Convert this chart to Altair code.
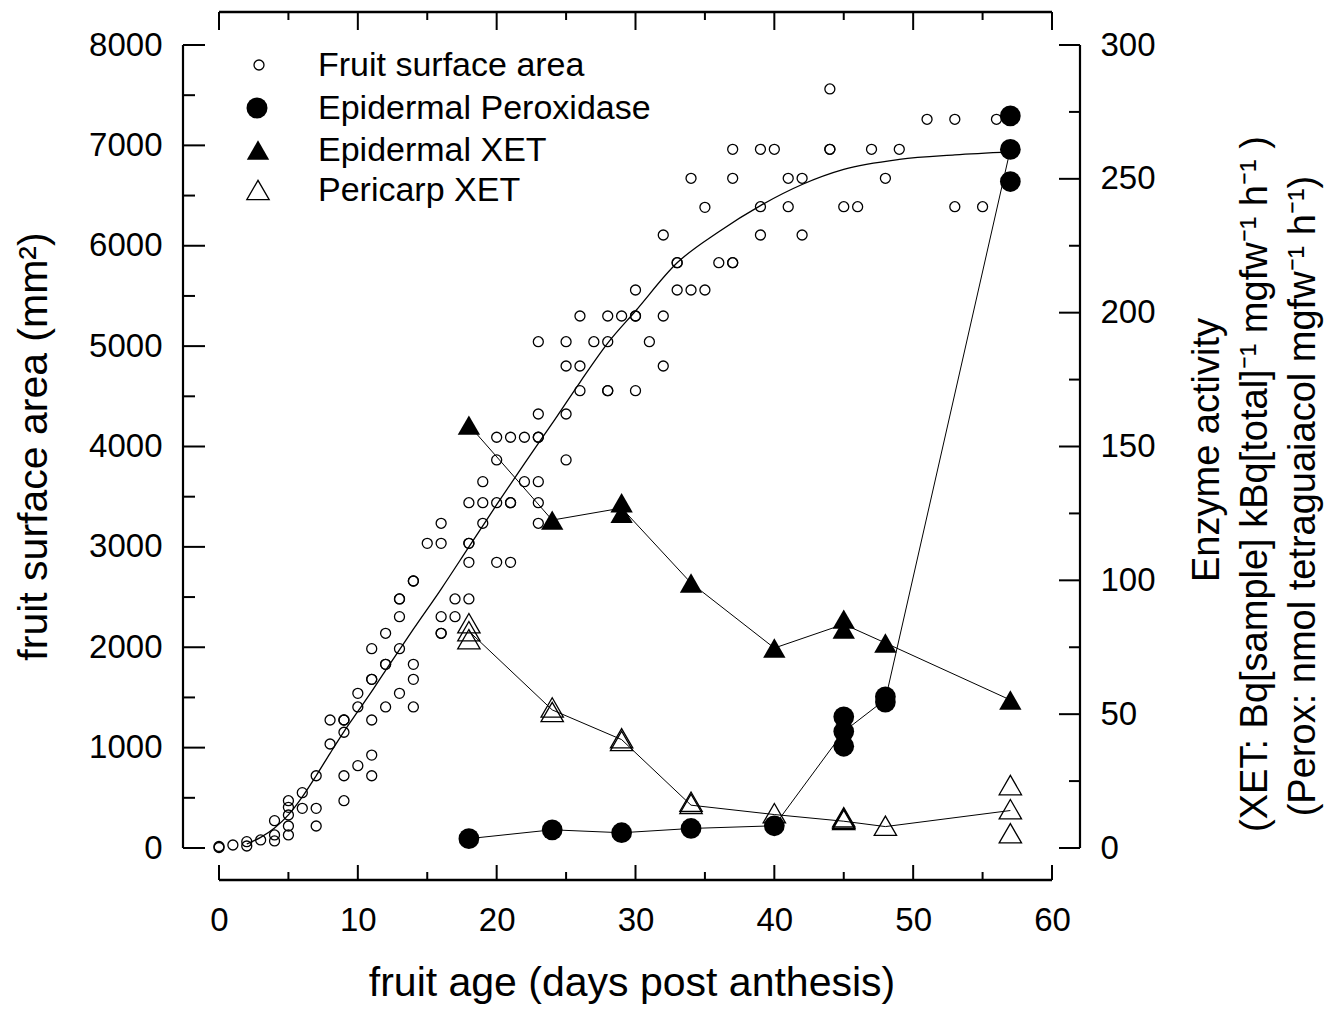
import altair as alt
import pandas as pd

# ---------------- data ----------------
fruit_day = [
    0, 0, 1, 2, 2, 3, 4, 4, 4,
    5, 5, 5, 5, 5, 6, 6, 7, 7, 7,
    8, 8, 9, 9, 9, 9, 9, 10, 10, 10,
    11, 11, 11, 11, 11, 11, 12, 12, 12, 12,
    13, 13, 13, 13, 13, 14, 14, 14, 14, 14,
    15, 16, 16, 16, 16, 16, 17, 17,
    18, 18, 18, 18, 18, 19, 19, 19,
    20, 20, 20, 20, 21, 21, 21, 21, 22, 22,
    23, 23, 23, 23, 23, 23, 23, 25, 25, 25, 25,
    26, 26, 26, 27, 28, 28, 28, 28, 29,
    30, 30, 30, 30, 31, 32, 32, 32, 33, 33, 33,
    34, 34, 35, 35, 36, 37, 37, 37, 37,
    39, 39, 39, 40, 41, 41, 42, 42, 44, 44, 44,
    45, 46, 47, 48, 49, 51, 53, 53, 55, 56]
fruit_area = [
    5, 15, 30, 63, 20, 80, 272, 130, 70,
    471, 405, 329, 219, 130, 551, 395, 720, 395, 219,
    1275, 1036, 1275, 1275, 1153, 720, 471, 1541, 1405, 820,
    1986, 1680, 1680, 1275, 926, 720, 2139, 1830, 1830, 1405,
    2481, 2481, 2305, 1986, 1541, 2660, 2660, 1830, 1680, 1405,
    3035, 3235, 3035, 2305, 2139, 2139, 2481, 2305,
    3440, 3035, 3035, 2846, 2481, 3650, 3440, 3235,
    4092, 3866, 3440, 2846, 4092, 3440, 3440, 2846, 4092, 3650,
    5044, 4324, 4092, 4092, 3650, 3440, 3235, 5044, 4802, 4324, 3866,
    5300, 4802, 4556, 5044, 5300, 5044, 4556, 4556, 5300,
    5559, 5300, 5300, 4556, 5044, 6107, 5300, 4802, 5831, 5831, 5559,
    6672, 5559, 6383, 5559, 5831, 6961, 6672, 5831, 5831,
    6961, 6389, 6107, 6961, 6672, 6389, 6672, 6107, 7562, 6961, 6961,
    6389, 6389, 6961, 6672, 6961, 7260, 7260, 6389, 6389, 7260]

fit_day = [2, 3, 4, 5, 6, 7, 8, 9, 10, 11, 12, 14, 16, 18, 20, 22, 24, 26,
           28, 30, 33, 36, 39, 42, 45, 49, 53, 57]
fit_area = [40, 106, 200, 330, 510, 720, 943, 1160, 1360, 1560, 1770, 2180,
            2580, 3000, 3420, 3830, 4230, 4640, 5030, 5350, 5830, 6140, 6400,
            6610, 6760, 6860, 6905, 6935]

perox_day = [18, 24, 29, 34, 40, 45, 45, 45, 48, 48, 57, 57, 57]
perox_val = [3.5, 6.8, 5.7, 7.3, 8.3, 49, 43.5, 38, 56.5, 54.5, 273.5, 261, 249]
perox_line_day = [18, 24, 29, 34, 40, 45, 48, 57]
perox_line_val = [3.5, 6.8, 5.7, 7.3, 8.3, 43.5, 55.5, 261]

exet_day = [18, 24, 29, 29, 34, 40, 45, 45, 48, 57]
exet_val = [158, 122.5, 129, 125, 99, 74.7, 85.5, 81.8, 76.6, 55.3]
exet_line_day = [18, 24, 29, 34, 40, 45, 48, 57]
exet_line_val = [158, 122.5, 127, 99, 74.7, 83.6, 76.6, 55.3]

pxet_day = [18, 18, 18, 24, 24, 29, 29, 34, 34, 40, 45, 45, 45, 48, 57, 57, 57]
pxet_val = [84, 81, 78, 52.5, 50.8, 41, 40, 17.3, 16.5, 13, 11.5, 11, 10.5, 8.3, 23.5, 14.5, 5.5]
pxet_line_day = [18, 24, 29, 34, 40, 45, 48, 57]
pxet_line_val = [81, 51.6, 40.5, 16, 12.5, 10, 8, 14]

x_major = [0, 10, 20, 30, 40, 50, 60]
x_minor = [5, 15, 25, 35, 45, 55]
yl_major = [0, 1000, 2000, 3000, 4000, 5000, 6000, 7000, 8000]
yl_minor = [500, 1500, 2500, 3500, 4500, 5500, 6500, 7500]
yr_major = [0, 50, 100, 150, 200, 250, 300]
yr_minor = [25, 75, 125, 175, 225, 275]

legend_labels = ["Fruit surface area", "Epidermal Peroxidase",
                 "Epidermal XET", "Pericarp XET"]
x_title = "fruit age (days post anthesis)"
yl_title = "fruit surface area (mm\u00b2)"
yr_title_lines = ["Enzyme activity",
                  "(XET: Bq[sample] kBq[total]\u207b\u00b9  mgfw\u207b\u00b9 h\u207b\u00b9 )",
                  "(Perox: nmol tetraguaiacol mgfw\u207b\u00b9 h\u207b\u00b9)"]

# ---------------- layout ----------------
W, H = 897, 868
PAD = {"left": 183, "top": 12, "right": 257, "bottom": 131}
PX_DAY = 833 / 60
X_DOMAIN = [-36 / PX_DAY, 60 + 28 / PX_DAY]
PX_AREA = 803 / 8000
YL_DOMAIN = [-32 / PX_AREA, 8000 + 33 / PX_AREA]
YR_DOMAIN = [v * 300 / 8000 for v in YL_DOMAIN]
FONT = "Liberation Sans"

xs = alt.Scale(domain=X_DOMAIN, nice=False, zero=False)
yls = alt.Scale(domain=YL_DOMAIN, nice=False, zero=False)
yrs = alt.Scale(domain=YR_DOMAIN, nice=False, zero=False)

x_axis = alt.Axis(values=x_major, title=x_title, format="d", domain=False, ticks=False,
                  tickSize=0, grid=False, labelPadding=24, titlePadding=26,
                  labelFlush=False, labelOverlap=False)
yl_axis = alt.Axis(values=yl_major, title=yl_title, format="d", domain=False, ticks=False,
                   tickSize=0, grid=False, labelPadding=21, titlePadding=33,
                   labelFlush=False, labelOverlap=False)
yr_axis = alt.Axis(values=yr_major, title=None, orient="right", format="d", domain=False,
                   ticks=False, tickSize=0, grid=False, labelPadding=20,
                   labelFlush=False, labelOverlap=False)


def X(field):
    return alt.X(field, type="quantitative", scale=xs, axis=x_axis)


def YL(field):
    return alt.Y(field, type="quantitative", scale=yls, axis=yl_axis)


def YR(field):
    return alt.Y(field, type="quantitative", scale=yrs, axis=yr_axis)


one = pd.DataFrame({"k": [0]})

# ---------------- left (fruit area) group ----------------
fruit_df = pd.DataFrame({"day": fruit_day, "area": fruit_area})
fit_df = pd.DataFrame({"day": fit_day, "area": fit_area})

fruit_pts = alt.Chart(fruit_df).mark_point(
    shape="circle", filled=False, size=100, strokeWidth=1.3, color="black", opacity=1
).encode(x=X("day"), y=YL("area"))
fit_line = alt.Chart(fit_df).mark_line(
    color="black", strokeWidth=1.3, interpolate="monotone"
).encode(x=X("day"), y=YL("area"))

left_line = alt.Chart(pd.DataFrame({"a": [yl_major[0]], "b": [yl_major[-1]]})).mark_rule(
    color="black", strokeWidth=2.2
).encode(x=alt.value(0), y=YL("a"), y2="b")
left_major = alt.Chart(pd.DataFrame({"v": yl_major})).mark_rule(color="black", strokeWidth=2).encode(
    y=YL("v"), x=alt.value(0), x2=alt.value(22))
left_minor = alt.Chart(pd.DataFrame({"v": yl_minor})).mark_rule(color="black", strokeWidth=2).encode(
    y=YL("v"), x=alt.value(0), x2=alt.value(12))

xline_df = pd.DataFrame({"a": [x_major[0]], "b": [x_major[-1]]})
top_line = alt.Chart(xline_df).mark_rule(color="black", strokeWidth=2.4).encode(
    x=X("a"), x2="b", y=alt.value(0))
bot_line = alt.Chart(xline_df).mark_rule(color="black", strokeWidth=2.4).encode(
    x=X("a"), x2="b", y=alt.value(H))
top_major = alt.Chart(pd.DataFrame({"v": x_major})).mark_rule(color="black", strokeWidth=2).encode(
    x=X("v"), y=alt.value(0), y2=alt.value(18))
top_minor = alt.Chart(pd.DataFrame({"v": x_minor})).mark_rule(color="black", strokeWidth=2).encode(
    x=X("v"), y=alt.value(0), y2=alt.value(8))
bot_major = alt.Chart(pd.DataFrame({"v": x_major})).mark_rule(color="black", strokeWidth=2).encode(
    x=X("v"), y=alt.value(H), y2=alt.value(H - 15))
bot_minor = alt.Chart(pd.DataFrame({"v": x_minor})).mark_rule(color="black", strokeWidth=2).encode(
    x=X("v"), y=alt.value(H), y2=alt.value(H - 8))

left_group = alt.layer(fruit_pts, fit_line, left_line, left_major, left_minor,
                       top_line, bot_line, top_major, top_minor, bot_major, bot_minor)

# ---------------- right (enzyme) group ----------------
def series(days, vals, line_days, line_vals, shape, filled, size, sw):
    ln = alt.Chart(pd.DataFrame({"day": line_days, "val": line_vals})).mark_line(
        color="black", strokeWidth=1).encode(x=X("day"), y=YR("val"))
    pt = alt.Chart(pd.DataFrame({"day": days, "val": vals})).mark_point(
        shape=shape, filled=filled, size=size, strokeWidth=sw, color="black", opacity=1
    ).encode(x=X("day"), y=YR("val"))
    return ln, pt


px_ln, px_pt = series(pxet_day, pxet_val, pxet_line_day, pxet_line_val,
                      "triangle-up", False, 500, 1.3)
ex_ln, ex_pt = series(exet_day, exet_val, exet_line_day, exet_line_val,
                      "triangle-up", True, 500, 1)
po_ln, po_pt = series(perox_day, perox_val, perox_line_day, perox_line_val,
                      "circle", True, 430, 1)

right_line = alt.Chart(pd.DataFrame({"a": [yr_major[0]], "b": [yr_major[-1]]})).mark_rule(
    color="black", strokeWidth=2.2
).encode(x=alt.value(W), y=YR("a"), y2="b")
right_major = alt.Chart(pd.DataFrame({"v": yr_major})).mark_rule(color="black", strokeWidth=2).encode(
    y=YR("v"), x=alt.value(W), x2=alt.value(W - 21))
right_minor = alt.Chart(pd.DataFrame({"v": yr_minor})).mark_rule(color="black", strokeWidth=2).encode(
    y=YR("v"), x=alt.value(W), x2=alt.value(W - 11))

# legend
leg_sym_pos = [(76, 53), (74, 96), (75, 138), (75, 178)]
leg_specs = [("circle", False, 100, 1.3), ("circle", True, 441, 1),
             ("triangle-up", True, 500, 1), ("triangle-up", False, 500, 1.3)]
legend_layers = []
for (lx, ly), (shape, filled, size, sw), lab in zip(leg_sym_pos, leg_specs, legend_labels):
    legend_layers.append(
        alt.Chart(one).mark_point(shape=shape, filled=filled, size=size, strokeWidth=sw,
                                  color="black", opacity=1).encode(x=alt.value(lx), y=alt.value(ly)))
    legend_layers.append(
        alt.Chart(pd.DataFrame({"label": [lab]})).mark_text(
            align="left", baseline="middle", font=FONT, fontSize=34, color="black"
        ).encode(x=alt.value(135), y=alt.value(ly + 1), text="label:N"))

# right-hand title (three lines)
rt_pos = [(1025, 438), (1073, 472), (1121, 484)]
rt_layers = []
for (tx, ty), txt in zip(rt_pos, yr_title_lines):
    rt_layers.append(
        alt.Chart(pd.DataFrame({"t": [txt]})).mark_text(
            angle=270, align="center", baseline="middle", font=FONT, fontSize=38, color="black"
        ).encode(x=alt.value(tx), y=alt.value(ty), text="t:N"))

right_group = alt.layer(px_ln, ex_ln, po_ln, px_pt, ex_pt, po_pt,
                        right_line, right_major, right_minor,
                        *legend_layers, *rt_layers)

chart = alt.layer(left_group, right_group).resolve_scale(y="independent").properties(
    width=W, height=H, padding=PAD,
    autosize=alt.AutoSizeParams(type="none"), background="white"
).configure_view(stroke=None).configure_axis(
    labelFont=FONT, titleFont=FONT, labelFontSize=33, titleFontSize=41,
    titleFontWeight="normal", labelColor="black", titleColor="black"
)

chart.save("out.html", embed_options={"renderer": "svg", "actions": False})
